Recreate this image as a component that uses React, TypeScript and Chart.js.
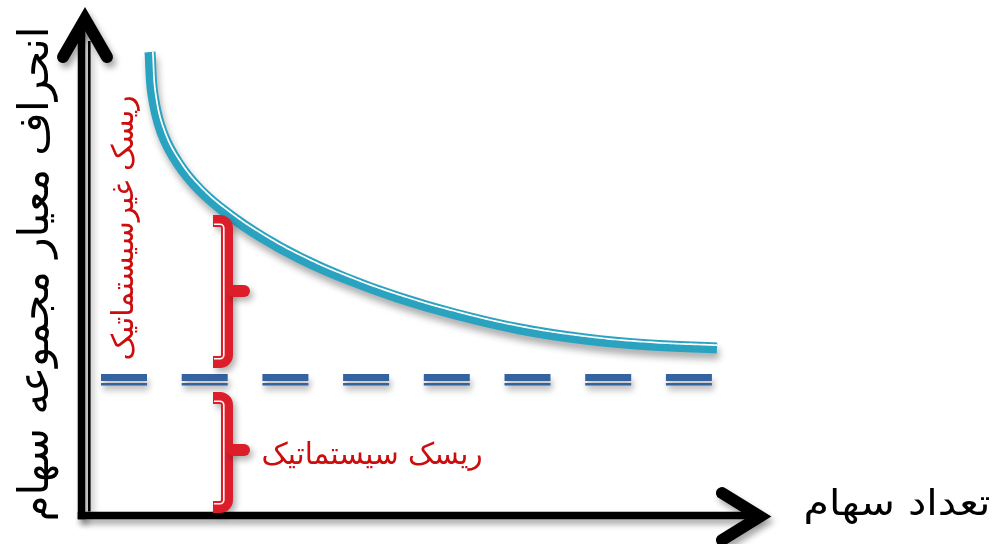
import React, { useEffect, useRef } from "react";
import { Chart, registerables } from "chart.js";

Chart.register(...registerables);

// ---- Data (diagram units) ----
// Number of stocks in the portfolio vs. portfolio standard deviation
const stockCount = [6.5, 6.8, 7.7, 9.3, 11.5, 14.3, 17.7, 21.5, 26.0, 31.2, 37.0, 43.5, 50.0, 56.5, 63.2];
const portfolioStd = [46.3, 42.0, 38.3, 35.2, 32.5, 30.1, 27.8, 25.7, 23.7, 21.8, 20.1, 18.6, 17.6, 17.0, 16.7];

// Systematic-risk floor (dashed line)
const systematicLevel = 13.75;
const systematicLineX = [1.6, 62.7];

// Axis extents (arrow tips)
const xAxisEnd = 68.7;
const yAxisEnd = 50.8;

// Braces: [unsystematic, systematic]
const braceLow = [15.3, 0.8];
const braceHigh = [29.4, 11.7];
const braceMid = [22.4, 6.5];
const braceX = 14.2;
const braceTipX = 12.8;
const braceNibX = 15.9;

// Labels
const yTitle = "انحراف معیار مجموعه سهام";
const xTitle = "تعداد سهام";
const unsystematicLabel = "ریسک غیرسیستماتیک";
const systematicLabel = "ریسک سیستماتیک";

const TEAL = "#2aa3c1";
const NAVY = "#3563a0";
const RED = "#dc1e2b";
const TEXT_RED = "#cc0d0d";
const FONT = '"DejaVu Sans", sans-serif';

function setShadow(ctx: CanvasRenderingContext2D, ox = 2, oy = 5, blur = 6, color = "rgba(0,0,0,0.35)") {
  ctx.shadowColor = color;
  ctx.shadowBlur = blur;
  ctx.shadowOffsetX = ox;
  ctx.shadowOffsetY = oy;
}

function drawFitText(
  ctx: CanvasRenderingContext2D,
  text: string,
  x: number,
  y: number,
  rot: number,
  size: number,
  targetLen: number,
  color: string
) {
  ctx.save();
  ctx.font = `${size}px ${FONT}`;
  (ctx as any).direction = "rtl";
  ctx.textAlign = "center";
  ctx.textBaseline = "alphabetic";
  const w = ctx.measureText(text).width;
  ctx.translate(x, y);
  ctx.rotate(rot);
  ctx.scale(targetLen / w, 1);
  ctx.fillStyle = color;
  ctx.fillText(text, 0, 0);
  ctx.restore();
}

const decorPlugin = {
  id: "decor",
  beforeDatasetDraw(chart: any, args: any) {
    const ctx = chart.ctx as CanvasRenderingContext2D;
    ctx.save();
    if (args.index === 0) setShadow(ctx, 2, 6, 7, "rgba(0,0,0,0.32)");
    else setShadow(ctx, 2, 6, 6, "rgba(0,0,0,0.3)");
  },
  afterDatasetDraw(chart: any, args: any) {
    const ctx = chart.ctx as CanvasRenderingContext2D;
    ctx.restore();
    const pts = args.meta.data;
    if (args.index === 0) {
      // sample bezier path, draw white inner highlight offset along the normal
      const samples: [number, number][] = [];
      for (let i = 1; i < pts.length; i++) {
        const p = pts[i - 1];
        const c = pts[i];
        const x0 = p.x, y0 = p.y, x1 = p.cp2x, y1 = p.cp2y, x2 = c.cp1x, y2 = c.cp1y, x3 = c.x, y3 = c.y;
        for (let k = i === 1 ? 0 : 1; k <= 24; k++) {
          const t = k / 24;
          const u = 1 - t;
          const bx = u * u * u * x0 + 3 * u * u * t * x1 + 3 * u * t * t * x2 + t * t * t * x3;
          const by = u * u * u * y0 + 3 * u * u * t * y1 + 3 * u * t * t * y2 + t * t * t * y3;
          samples.push([bx, by]);
        }
      }
      const off = 2.8;
      ctx.save();
      ctx.beginPath();
      for (let i = 0; i < samples.length; i++) {
        const a = samples[Math.max(0, i - 1)];
        const b = samples[Math.min(samples.length - 1, i + 1)];
        let tx = b[0] - a[0];
        let ty = b[1] - a[1];
        const len = Math.hypot(tx, ty) || 1;
        tx /= len;
        ty /= len;
        const nx = ty, ny = -tx;
        const px = samples[i][0] + nx * off;
        const py = samples[i][1] + ny * off;
        if (i === 0) ctx.moveTo(px, samples[0][1]);
        ctx.lineTo(px, py);
      }
      ctx.strokeStyle = "#ffffff";
      ctx.lineWidth = 1.7;
      ctx.stroke();
      ctx.restore();
    } else if (args.index === 1) {
      // thin partner line of the dashed double rule
      ctx.save();
      setShadow(ctx, 2, 5, 6, "rgba(0,0,0,0.3)");
      ctx.setLineDash([46, 34.7]);
      ctx.beginPath();
      ctx.moveTo(pts[0].x, pts[0].y + 6.8);
      ctx.lineTo(pts[1].x, pts[1].y + 6.8);
      ctx.strokeStyle = NAVY;
      ctx.lineWidth = 2.6;
      ctx.stroke();
      ctx.restore();
    }
  },
  afterDatasetsDraw(chart: any) {
    const ctx = chart.ctx as CanvasRenderingContext2D;
    const xs = chart.scales.x;
    const ys = chart.scales.y;
    const X = (v: number) => xs.getPixelForValue(v);
    const Y = (v: number) => ys.getPixelForValue(v);

    const x0 = X(0);
    const y0 = Y(0);
    const xe = X(xAxisEnd);
    const ye = Y(yAxisEnd);

    // ---- axes ----
    ctx.save();
    setShadow(ctx, 3, 5, 6, "rgba(0,0,0,0.35)");
    ctx.strokeStyle = "#000";
    ctx.lineCap = "butt";
    ctx.lineWidth = 7.5;
    ctx.beginPath();
    ctx.moveTo(x0 - 3.5, y0 + 4.3);
    ctx.lineTo(x0 - 3.5, ye + 14);
    ctx.stroke();
    ctx.beginPath();
    ctx.moveTo(x0 - 7.3, y0 + 0.5);
    ctx.lineTo(xe - 14, y0 + 0.5);
    ctx.stroke();
    ctx.lineWidth = 2.6;
    ctx.beginPath();
    ctx.moveTo(x0 + 4.3, y0 - 3.5);
    ctx.lineTo(x0 + 4.3, ye + 34);
    ctx.stroke();
    ctx.lineWidth = 12;
    ctx.lineCap = "round";
    ctx.lineJoin = "miter";
    ctx.miterLimit = 10;
    ctx.beginPath();
    ctx.moveTo(x0 - 22, ye + 50);
    ctx.lineTo(x0, ye + 12);
    ctx.lineTo(x0 + 22, ye + 50);
    ctx.stroke();
    ctx.beginPath();
    ctx.moveTo(xe - 50, y0 - 22);
    ctx.lineTo(xe - 12, y0 + 1.5);
    ctx.lineTo(xe - 50, y0 + 25);
    ctx.stroke();
    ctx.restore();

    // ---- braces ----
    for (let i = 0; i < braceLow.length; i++) {
      const bx = X(braceX);
      const tx = X(braceTipX);
      const top = Y(braceHigh[i]);
      const bot = Y(braceLow[i]);
      const mid = Y(braceMid[i]);
      const nib = X(braceNibX);
      const r = 7;
      ctx.save();
      setShadow(ctx, 3, 4, 6, "rgba(0,0,0,0.3)");
      ctx.strokeStyle = RED;
      ctx.lineWidth = 12;
      ctx.lineCap = "butt";
      ctx.lineJoin = "round";
      ctx.beginPath();
      ctx.moveTo(tx, top);
      ctx.lineTo(bx - r, top);
      ctx.arcTo(bx, top, bx, top + r, r);
      ctx.lineTo(bx, bot - r);
      ctx.arcTo(bx, bot, bx - r, bot, r);
      ctx.lineTo(tx, bot);
      ctx.stroke();
      ctx.lineCap = "round";
      ctx.beginPath();
      ctx.moveTo(bx + 6, mid);
      ctx.lineTo(nib, mid);
      ctx.stroke();
      ctx.restore();
      ctx.save();
      ctx.strokeStyle = "#ffffff";
      ctx.lineWidth = 1.6;
      const o = 3.2;
      const r2 = Math.max(1, r - o);
      ctx.beginPath();
      ctx.moveTo(tx + 1, top + o);
      ctx.lineTo(bx - o - r2, top + o);
      ctx.arcTo(bx - o, top + o, bx - o, top + o + r2, r2);
      ctx.lineTo(bx - o, bot - o - r2);
      ctx.arcTo(bx - o, bot - o, bx - o - r2, bot - o, r2);
      ctx.lineTo(tx + 1, bot - o);
      ctx.stroke();
      ctx.restore();
    }

    // ---- texts ----
    drawFitText(ctx, yTitle, 48, 274, -Math.PI / 2, 42, 495, "#000");
    drawFitText(ctx, unsystematicLabel, 133, 228, -Math.PI / 2, 30, 265, TEXT_RED);
    drawFitText(ctx, systematicLabel, 372, 464, 0, 30, 221, TEXT_RED);
    drawFitText(ctx, xTitle, 897, 515, 0, 36, 187, "#000");
  },
};

export default function App() {
  const ref = useRef<HTMLCanvasElement>(null);
  useEffect(() => {
    document.body.style.margin = "0";
    const curve = stockCount.map((x, i) => ({ x, y: portfolioStd[i] }));
    const floor = systematicLineX.map((x) => ({ x, y: systematicLevel }));
    const chart = new Chart(ref.current as HTMLCanvasElement, {
      type: "line",
      data: {
        datasets: [
          {
            data: curve,
            borderColor: TEAL,
            borderWidth: 11,
            pointRadius: 0,
            tension: 0.4,
            borderCapStyle: "butt",
            fill: false,
            clip: false as any,
          },
          {
            data: floor,
            borderColor: NAVY,
            borderWidth: 7,
            pointRadius: 0,
            borderDash: [46, 34.7],
            borderCapStyle: "butt",
            fill: false,
            clip: false as any,
          },
        ],
      },
      options: {
        responsive: false,
        animation: false,
        events: [],
        layout: { padding: 0 },
        plugins: { legend: { display: false }, tooltip: { enabled: false } },
        scales: {
          x: { type: "linear", min: -8.5, max: 91.1, display: false },
          y: { type: "linear", min: -2.9, max: 51.5, display: false },
        },
      },
      plugins: [decorPlugin],
    });
    return () => chart.destroy();
  }, []);
  return (
    <div style={{ width: 996, height: 544 }}>
      <canvas ref={ref} width={996} height={544} style={{ display: "block" }} />
    </div>
  );
}
